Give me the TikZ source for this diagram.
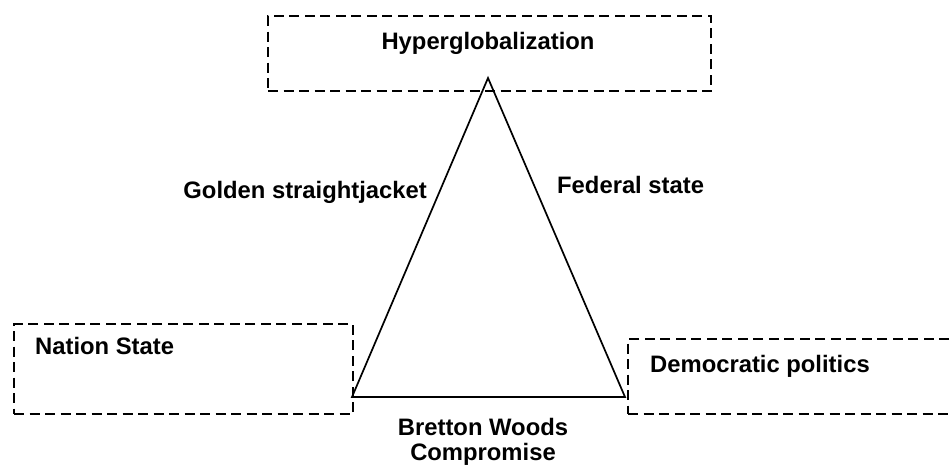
\documentclass[tikz,border=0pt]{standalone}
\usepackage{fontspec}
\setmainfont{Liberation Sans}
\begin{document}
\begin{tikzpicture}[x=1pt,y=-1pt,
  box/.style={draw, line width=2.4pt, dash pattern=on 10pt off 5.5pt, anchor=north west, inner sep=0pt},
  lbl/.style={font=\fontsize{23.8}{26}\selectfont\bfseries, inner sep=0pt},
  tri/.style={line width=1.7pt}]
\useasboundingbox (0,0) rectangle (950,466);
\clip (0,0) rectangle (950,466);
% boxes
\node[box, minimum width=443pt, minimum height=75pt] (hbox) at (267,15) {};
\node[box, minimum width=339pt, minimum height=90pt] (nbox) at (13,323) {};
\node[box, minimum width=340pt, minimum height=75pt] (dbox) at (627,338) {};
% box texts
\node[lbl, anchor=base] (htxt) at (488,49) {Hyperglobalization};
\node[lbl, anchor=base west] (ntxt) at (35,354) {Nation State};
\node[lbl, anchor=base west] (dtxt) at (650,372) {Democratic politics};
% triangle
\coordinate (apex) at (488,78);
\coordinate (bl) at (352,397);
\coordinate (br) at (625,397);
\draw[tri, line join=miter] (apex) -- (bl) -- (br) -- cycle;
% edge labels
\node[lbl, anchor=base east] (gold) at (427,198) {Golden straightjacket};
\node[lbl, anchor=base west] (fed) at (557,193) {Federal state};
\node[lbl, anchor=base] (bw1) at (483,435) {Bretton Woods};
\node[lbl, anchor=base] (bw2) at (483,460) {Compromise};
\end{tikzpicture}
\end{document}
